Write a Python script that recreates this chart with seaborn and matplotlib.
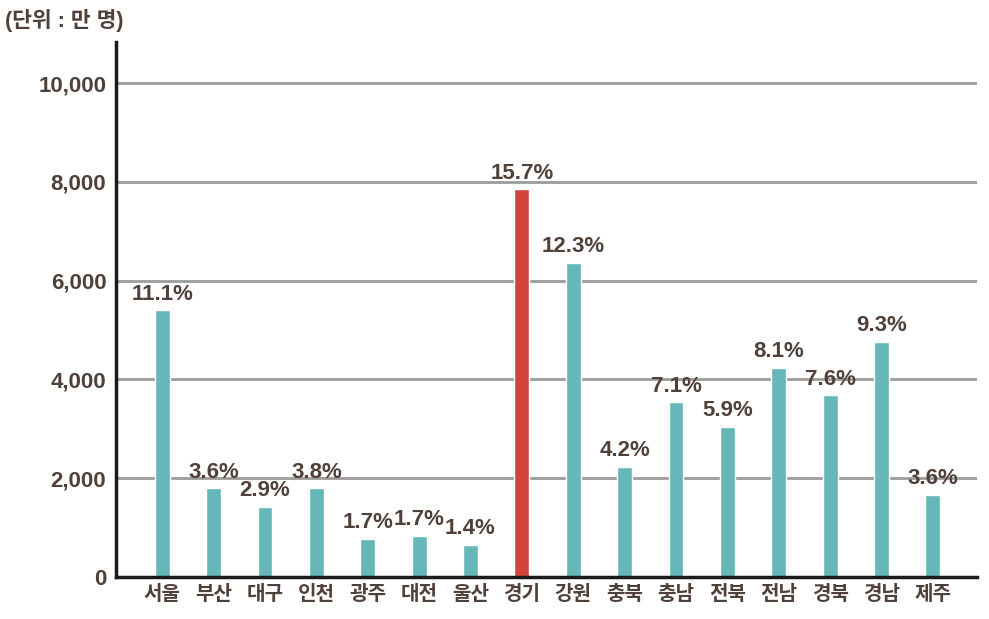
import matplotlib
matplotlib.use("Agg")
import matplotlib.pyplot as plt
import seaborn as sns
import pandas as pd
from matplotlib.ticker import FuncFormatter

regions = ["서울", "부산", "대구", "인천", "광주", "대전", "울산", "경기",
           "강원", "충북", "충남", "전북", "전남", "경북", "경남", "제주"]
values = [5400, 1800, 1420, 1800, 770, 830, 650, 7850,
          6360, 2230, 3540, 3040, 4230, 3680, 4760, 1660]
shares = ["11.1%", "3.6%", "2.9%", "3.8%", "1.7%", "1.7%", "1.4%", "15.7%",
          "12.3%", "4.2%", "7.1%", "5.9%", "8.1%", "7.6%", "9.3%", "3.6%"]
highlight = "경기"
yticks = [0, 2000, 4000, 6000, 8000, 10000]
unit_label = "(단위 : 만 명)"

TEAL = "#66b8b8"
RED = "#d2443c"
TXT = "#4f4039"

sns.set_theme(style="white")
plt.rcParams["font.family"] = ["Liberation Sans", "Noto Sans CJK KR", "DejaVu Sans"]
plt.rcParams["font.weight"] = "bold"

df = pd.DataFrame({"region": regions, "value": values})
palette = {r: (RED if r == highlight else TEAL) for r in regions}

fig = plt.figure(figsize=(9.89, 6.19), dpi=100)
ax = fig.add_axes([116 / 989, 42 / 619, (977 - 116) / 989, (577 - 42) / 619])

sns.barplot(data=df, x="region", y="value", hue="region", palette=palette,
            width=0.29, legend=False, ax=ax, saturation=1)

ax.set_ylim(0, 10830)
ax.set_xlim(-0.9, 15.86)
ax.set_yticks(yticks)
ax.yaxis.set_major_formatter(FuncFormatter(lambda v, p: f"{int(v):,}"))
ax.set_xlabel("")
ax.set_ylabel("")

ax.yaxis.grid(True, color="#9c9c9c", linewidth=2)
ax.set_axisbelow(True)
for s in ["top", "right"]:
    ax.spines[s].set_visible(False)
for s in ["left", "bottom"]:
    ax.spines[s].set_color("#1a1a1a")
    ax.spines[s].set_linewidth(2.5)

ax.tick_params(axis="y", length=0, pad=7, labelsize=16, labelcolor=TXT)
ax.tick_params(axis="x", length=0, pad=6, labelsize=14.5, labelcolor=TXT)
for lbl in ax.get_xticklabels() + ax.get_yticklabels():
    lbl.set_fontweight("bold")

for i, (v, s) in enumerate(zip(values, shares)):
    ax.annotate(s, (i, v), xytext=(0, 4), textcoords="offset points",
                ha="center", va="bottom", fontsize=16, fontweight="bold", color=TXT)

fig.text(5 / 989, 1 - 20 / 619, unit_label, ha="left", va="center",
         fontsize=15.5, fontweight="bold", color=TXT)

fig.savefig("out.png", dpi=100)
